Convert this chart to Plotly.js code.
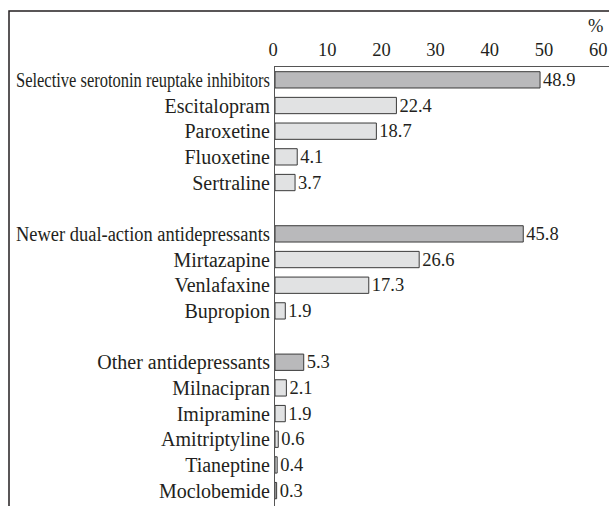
<!DOCTYPE html>
<html>
<head>
<meta charset="utf-8">
<script src="https://cdn.plot.ly/plotly-3.0.1.min.js"></script>
<style>
  html, body { margin: 0; padding: 0; background: #fff; }
  #chart { width: 609px; height: 506px; }
</style>
</head>
<body>
<div id="chart"></div>
<script>
// Row labels (blank strings are the gaps between groups)
const categories = [
  "Selective serotonin reuptake inhibitors", "Escitalopram", "Paroxetine", "Fluoxetine", "Sertraline",
  "",
  "Newer dual-action antidepressants", "Mirtazapine", "Venlafaxine", "Bupropion",
  "",
  "Other antidepressants", "Milnacipran", "Imipramine", "Amitriptyline", "Tianeptine", "Moclobemide"
];
// Percent values (null = gap row)
const values = [
  48.9, 22.4, 18.7, 4.1, 3.7,
  null,
  45.8, 26.6, 17.3, 1.9,
  null,
  5.3, 2.1, 1.9, 0.6, 0.4, 0.3
];
// 1 = drug class total, 0 = individual drug
const isClass = [1,0,0,0,0, 0, 1,0,0,0, 0, 1,0,0,0,0,0];
const xTicks = [0, 10, 20, 30, 40, 50, 60];

const ink = "#231f20";
const serif = "Liberation Serif, serif";
const rows = categories.map((_, i) => i);
const fills = isClass.map(c => c ? "#b9b9bb" : "#e1e2e3");

const trace = {
  type: "bar",
  orientation: "h",
  x: values,
  y: rows,
  width: 0.635,
  marker: { color: fills, line: { color: "#3a3a3a", width: 1 } },
  text: values.map(v => v == null ? "" : v.toFixed(1)),
  textposition: "outside",
  constraintext: "none",
  textfont: { family: serif, size: 18.5, color: ink },
  cliponaxis: false,
  hoverinfo: "skip"
};

// pixel -> paper helpers for the outer frame
const W = 609, H = 506, L = 275, T = 67, R = 0, B = 0;
const pw = W - L - R, ph = H - T - B;
const px = x => (x - L) / pw;
const py = y => 1 - (y - T) / ph;

const layout = {
  width: W, height: H,
  margin: { l: L, r: R, t: T, b: B, pad: 0 },
  paper_bgcolor: "#fff",
  plot_bgcolor: "#fff",
  showlegend: false,
  font: { family: serif, size: 20, color: ink },
  xaxis: {
    side: "top",
    range: [0, 61.62],
    tickvals: xTicks,
    ticktext: xTicks.map(String),
    showgrid: false,
    zeroline: false,
    showline: true,
    linecolor: "#555",
    linewidth: 1,
    ticks: "",
    ticklabelstandoff: 3,
    ticklabelshift: -2,
    tickfont: { family: serif, size: 18.5, color: ink },
    fixedrange: true
  },
  yaxis: {
    range: [16.6, -0.5],
    tickvals: rows,
    ticktext: categories,
    showgrid: false,
    zeroline: false,
    showline: true,
    linecolor: "#555",
    linewidth: 1,
    ticks: "",
    ticklabelstandoff: 0,
    tickfont: { family: serif, size: 20, color: ink },
    fixedrange: true
  },
  shapes: [
    {
      type: "path", xref: "paper", yref: "paper",
      path: `M ${px(9)} ${py(H + 5)} L ${px(9)} ${py(11)} L ${px(W + 5)} ${py(11)}`,
      line: { color: ink, width: 1.5 }
    }
  ],
  annotations: [
    {
      xref: "paper", yref: "paper",
      x: px(595), y: py(26),
      text: "%", showarrow: false,
      xanchor: "center", yanchor: "middle",
      font: { family: serif, size: 18.5, color: ink }
    }
  ]
};

// the long class names are set condensed in the original to fit the frame
const maxLabelWidth = 254;
Plotly.newPlot("chart", [trace], layout, { displayModeBar: false, staticPlot: true }).then(gd => {
  gd.querySelectorAll(".ytick text").forEach(t => {
    const w = t.getComputedTextLength();
    if (w > maxLabelWidth) {
      t.setAttribute("textLength", maxLabelWidth);
      t.setAttribute("lengthAdjust", "spacingAndGlyphs");
    }
  });
});
</script>
</body>
</html>
